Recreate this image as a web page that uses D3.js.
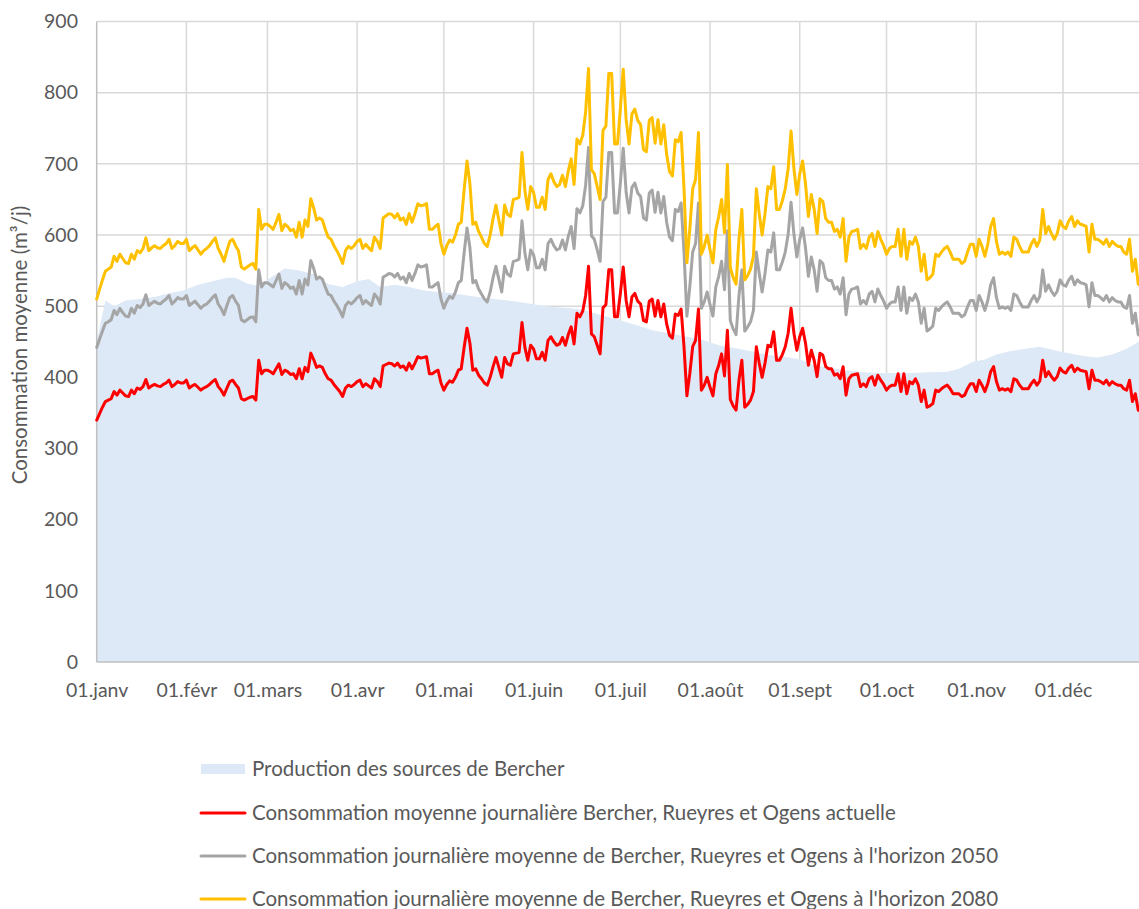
<!DOCTYPE html>
<html>
<head>
<meta charset="utf-8">
<script src="https://cdn.jsdelivr.net/npm/d3@7"></script>
<style>
  html, body { margin: 0; padding: 0; background: #ffffff; }
  svg { display: block; }
  text { font-family: Lato, "Open Sans", sans-serif; fill: #595959; }
</style>
</head>
<body>
<svg id="chart" width="1139" height="909"></svg>
<script>
// ---------- DATA ----------
const monthLabels = ["01.janv","01.févr","01.mars","01.avr","01.mai","01.juin","01.juil","01.août","01.sept","01.oct","01.nov","01.déc"];
const yTickValues = [0,100,200,300,400,500,600,700,800,900];
const yTitle = "Consommation moyenne (m³/j)";

const seriesNames = [
  "Production des sources de Bercher",
  "Consommation moyenne journalière Bercher, Rueyres et Ogens actuelle",
  "Consommation journalière moyenne de Bercher, Rueyres et Ogens à l'horizon 2050",
  "Consommation journalière moyenne de Bercher, Rueyres et Ogens à l'horizon 2080"
];

// daily values from 1 January (day 0)
const current = [
340,349,358,366,368,370,380,375,382,378,
374,373,382,377,385,383,387,397,385,388,
390,388,387,390,392,396,387,390,394,392,
392,396,385,388,390,386,382,385,387,390,
394,397,387,382,375,385,394,396,390,385,
370,368,370,372,373,368,424,405,410,410,
408,405,412,419,404,410,408,404,405,398,
412,398,414,408,434,425,414,416,414,405,
398,396,390,385,380,373,385,389,387,390,
394,396,387,391,388,385,398,394,387,416,
418,420,419,416,420,414,416,410,420,412,
420,429,427,428,429,405,405,408,410,392,
382,390,395,393,400,410,412,442,469,448,
410,412,403,398,392,389,400,415,428,414,
400,428,419,417,433,434,435,477,442,424,
445,440,426,426,435,424,452,457,450,445,
447,456,445,460,471,447,490,485,493,515,
556,461,457,445,433,498,502,551,551,485,
485,518,555,508,485,513,518,507,503,480,
478,507,510,486,508,485,503,475,459,455,
489,487,496,443,374,405,443,452,496,382,
389,400,386,374,405,417,433,402,466,369,
360,354,396,424,358,362,368,380,443,420,
400,420,445,443,464,424,424,432,443,462,
497,462,438,457,469,448,417,438,424,401,
434,431,415,412,412,403,405,398,415,375,
398,403,404,405,387,391,387,398,401,389,
403,396,390,382,387,389,389,405,380,405,
377,394,391,398,389,366,382,358,360,363,
382,380,384,387,389,384,377,377,377,373,
375,384,391,391,380,396,389,380,391,408,
415,394,382,384,382,384,380,398,396,389,
384,384,384,391,396,389,395,424,401,408,
401,396,401,413,408,406,413,417,408,413,
410,409,408,384,410,396,396,394,391,396,
389,394,391,389,389,384,382,396,366,377,
354,352];

const horizon2050 = [
442,454,465,476,478,481,494,488,497,491,
486,485,497,490,501,498,503,516,501,504,
507,504,503,507,510,515,503,507,512,510,
510,515,501,504,507,502,497,501,503,507,
512,516,503,497,488,501,512,515,507,501,
481,478,481,484,485,478,551,527,533,533,
530,527,536,545,525,533,530,525,527,517,
536,517,538,530,564,553,538,541,538,527,
517,515,507,501,494,485,501,506,503,507,
512,515,503,508,504,501,517,512,503,541,
543,546,545,541,546,538,541,533,546,536,
546,558,555,556,558,527,527,530,533,510,
497,507,514,511,520,533,536,575,610,582,
533,536,524,517,510,506,520,540,556,538,
520,556,545,542,563,564,566,620,575,551,
579,572,554,554,566,551,588,594,585,579,
581,593,579,598,612,581,637,631,641,670,
723,599,594,579,563,647,653,716,716,631,
631,673,722,660,631,667,673,659,654,624,
621,659,663,632,660,631,654,618,597,592,
636,633,645,576,486,527,576,588,645,497,
506,520,502,486,527,542,563,523,606,480,
468,460,515,551,465,471,478,494,576,546,
520,546,579,576,603,551,551,562,576,601,
646,601,569,594,610,582,542,569,551,521,
564,560,540,536,536,524,527,517,540,488,
517,524,525,527,503,508,503,517,521,506,
524,515,507,497,503,506,506,527,494,527,
490,512,508,517,506,476,497,465,468,472,
497,494,499,503,506,499,490,490,490,485,
488,499,508,508,494,515,506,494,508,530,
540,512,497,499,497,499,494,517,515,506,
499,499,499,508,515,506,514,551,521,530,
521,515,521,537,530,528,537,542,530,537,
533,532,530,499,533,515,515,512,508,515,
506,512,508,506,506,499,497,515,476,490,
460,458];

const horizon2080 = [
510,524,537,549,552,555,570,563,573,567,
561,560,573,566,578,575,581,596,578,582,
585,582,581,585,588,594,581,585,591,588,
588,594,578,582,585,579,573,578,581,585,
591,596,581,573,563,578,591,594,585,578,
555,552,555,558,560,552,636,608,615,615,
612,608,618,629,606,615,612,606,608,597,
618,597,621,612,651,638,621,624,621,608,
597,594,585,578,570,560,578,584,581,585,
591,594,581,587,582,578,597,591,581,624,
627,630,629,624,630,621,624,615,630,618,
630,644,641,642,644,608,608,612,615,588,
573,585,593,590,600,615,618,663,704,672,
615,618,605,597,588,584,600,623,642,621,
600,642,629,626,650,651,653,716,663,636,
668,660,639,639,653,636,678,686,675,668,
671,684,668,690,707,671,735,728,740,773,
834,692,686,668,650,747,753,827,827,728,
728,777,833,762,728,770,777,761,755,720,
717,761,765,729,762,728,755,713,689,683,
734,731,744,665,561,608,665,678,744,573,
584,600,579,561,608,626,650,603,699,554,
540,531,594,636,537,543,552,570,665,630,
600,630,668,665,696,636,636,648,665,693,
746,693,657,686,704,672,626,657,636,602,
651,647,623,618,618,605,608,597,623,563,
597,605,606,608,581,587,581,597,602,584,
605,594,585,573,581,584,584,608,570,608,
566,591,587,597,584,549,573,537,540,545,
573,570,576,581,584,576,566,566,566,560,
563,576,587,587,570,594,584,570,587,612,
623,591,573,576,573,576,570,597,594,584,
576,576,576,587,594,584,593,636,602,612,
602,594,602,620,612,609,620,626,612,620,
615,614,612,576,615,594,594,591,587,594,
584,591,587,584,584,576,573,594,549,566,
531,528];

// production (area): day of year and value
const productionDays = [0,3,6,10,15,20,25,30,35,40,45,48,52,56,60,65,70,75,80,85,90,94,98,103,108,113,118,123,130,135,140,146,152,158,164,169,175,181,187,192,198,204,210,215,221,227,233,238,243,248,254,259,265,271,277,282,288,294,298,303,307,311,316,321,326,331,336,341,346,351,356,361];
const production     = [450,508,500,508,510,513,518,522,530,535,540,540,532,528,540,553,550,545,531,527,535,538,527,530,527,522,520,518,514,511,509,506,502,499,497,494,487,480,473,466,462,457,452,445,441,436,431,429,425,417,413,410,407,406,406,406,407,408,412,422,425,432,437,440,443,438,434,430,428,432,440,452];

// ---------- CHART ----------
const svg = d3.select("#chart");
const dayToDate = d => new Date(Date.UTC(2019, 0, 1 + d));
const FONT = "Lato, 'Open Sans', sans-serif";

const x = d3.scaleUtc()
  .domain([dayToDate(0), dayToDate(334)])
  .range([96.7, 1063]);
const y = d3.scaleLinear().domain([0, 900]).range([662, 21.5]);

const monthTicks = d3.utcMonths(dayToDate(0), dayToDate(335));

// gridlines
const grid = svg.append("g");
grid.selectAll("line.h").data(yTickValues.filter(v => v > 0)).join("line")
  .attr("x1", x(dayToDate(0))).attr("x2", 1139)
  .attr("y1", d => y(d)).attr("y2", d => y(d))
  .attr("stroke", "#d9d9d9").attr("stroke-width", 1.5);
grid.selectAll("line.v").data(monthTicks.slice(1)).join("line")
  .attr("x1", d => x(d)).attr("x2", d => x(d))
  .attr("y1", y(900)).attr("y2", y(0))
  .attr("stroke", "#d9d9d9").attr("stroke-width", 1.5);

// area
const prodData = productionDays.map((d, i) => ({ date: dayToDate(d), v: production[i] }));
svg.append("path")
  .datum(prodData)
  .attr("fill", "#dde9f6")
  .attr("d", d3.area().x(d => x(d.date)).y0(y(0)).y1(d => y(d.v)));

// axes lines
svg.append("line").attr("x1", x(dayToDate(0))).attr("x2", x(dayToDate(0)))
  .attr("y1", y(900)).attr("y2", y(0)).attr("stroke", "#bfbfbf").attr("stroke-width", 1.5);
svg.append("line").attr("x1", x(dayToDate(0))).attr("x2", 1139)
  .attr("y1", y(0)).attr("y2", y(0)).attr("stroke", "#bfbfbf").attr("stroke-width", 1.5);

// lines
const lineGen = d3.line().x((d, i) => x(dayToDate(i))).y(d => y(d));
const lineSeries = [
  { values: current, color: "#ff0000" },
  { values: horizon2050, color: "#a5a5a5" },
  { values: horizon2080, color: "#ffc000" }
];
svg.append("g").selectAll("path").data(lineSeries).join("path")
  .attr("fill", "none")
  .attr("stroke", d => d.color)
  .attr("stroke-width", 3)
  .attr("stroke-linejoin", "round")
  .attr("stroke-linecap", "round")
  .attr("d", d => lineGen(d.values));

// y axis labels
const yAxis = svg.append("g")
  .attr("transform", "translate(78,0)")
  .call(d3.axisLeft(y).tickValues(yTickValues).tickSize(0).tickPadding(0));
yAxis.select(".domain").remove();
yAxis.selectAll("text").attr("font-size", 19.5).attr("fill", "#595959")
  .style("font-family", FONT);

// x axis labels
const xAxis = svg.append("g")
  .attr("transform", "translate(0," + y(0) + ")")
  .call(d3.axisBottom(x).tickValues(monthTicks).tickSize(0).tickPadding(0)
    .tickFormat((d, i) => monthLabels[i]));
xAxis.select(".domain").remove();
xAxis.selectAll("text").attr("font-size", 19.5).attr("fill", "#595959")
  .attr("y", 35).attr("dy", 0)
  .style("font-family", FONT);

// y title
svg.append("text")
  .attr("transform", "translate(27,345) rotate(-90)")
  .attr("text-anchor", "middle")
  .attr("font-size", 20.5)
  .text(yTitle);

// legend
const legend = svg.append("g");
const legendItems = [
  { name: seriesNames[0], type: "area", color: "#dde9f6" },
  { name: seriesNames[1], type: "line", color: "#ff0000" },
  { name: seriesNames[2], type: "line", color: "#a5a5a5" },
  { name: seriesNames[3], type: "line", color: "#ffc000" }
];
const legendY = [769, 813, 856, 899];
legendItems.forEach((it, i) => {
  const g = legend.append("g").attr("transform", "translate(0," + legendY[i] + ")");
  if (it.type === "area") {
    g.append("rect").attr("x", 201).attr("y", -5).attr("width", 44).attr("height", 10).attr("fill", it.color);
  } else {
    g.append("line").attr("x1", 201).attr("x2", 245).attr("y1", 0).attr("y2", 0)
      .attr("stroke", it.color).attr("stroke-width", 3).attr("stroke-linecap", "round");
  }
  g.append("text").attr("x", 252).attr("y", 0).attr("dy", "0.35em")
    .attr("font-size", 20.5).text(it.name);
});
</script>
</body>
</html>
